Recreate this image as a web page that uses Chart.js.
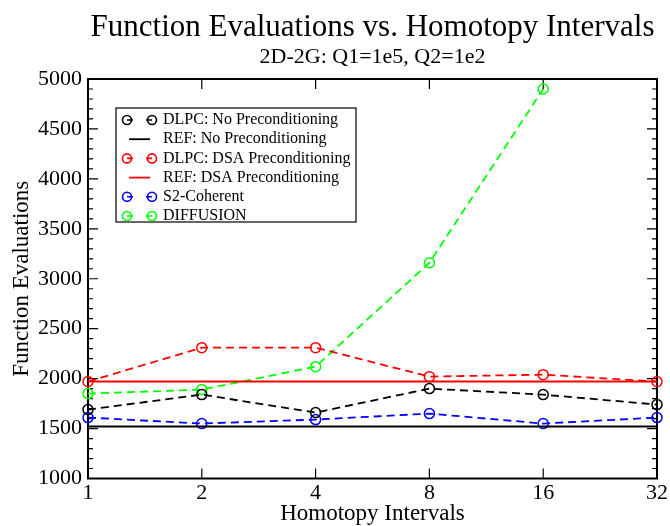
<!DOCTYPE html>
<html>
<head>
<meta charset="utf-8">
<script src="https://cdn.jsdelivr.net/npm/chart.js@4"></script>
<style>
html, body { margin: 0; padding: 0; background: #fff; }
</style>
</head>
<body>
<canvas id="chart" width="670" height="526"></canvas>
<script>
// data
const intervals = ['1', '2', '4', '8', '16', '32'];
const dlpcNoPrec = [1690, 1840, 1660, 1900, 1840, 1740];
const refNoPrec = [1520, 1520, 1520, 1520, 1520, 1520];
const dlpcDsa = [1970, 2310, 2310, 2020, 2040, 1970];
const refDsa = [1970, 1970, 1970, 1970, 1970, 1970];
const s2Coherent = [1610, 1550, 1590, 1650, 1550, 1610];
const diffusion = [1850, 1890, 2120, 3160, 4900, null];
const yMin = 1000, yMax = 5000;

const serif = 'Liberation Serif';

function dashed(label, data, color) {
    return {
        label: label,
        data: data,
        borderColor: color,
        borderWidth: 1.8,
        borderDash: [8, 5],
        pointStyle: 'circle',
        pointRadius: 5,
        pointBorderWidth: 1.5,
        pointBorderColor: color,
        pointBackgroundColor: 'rgba(0,0,0,0)',
        tension: 0,
        clip: false,
        spanGaps: false
    };
}

function solid(label, data, color) {
    return {
        label: label,
        data: data,
        borderColor: color,
        borderWidth: 2,
        pointRadius: 0,
        tension: 0,
        clip: false
    };
}

// box frame with inward ticks, like the original plot
const frameTicks = {
    id: 'frameTicks',
    beforeDatasetsDraw(chart) {
        const {ctx, chartArea: a, scales: {x, y}} = chart;
        ctx.save();
        ctx.strokeStyle = '#000';
        ctx.lineWidth = 1.2;
        ctx.beginPath();
        for (let v = yMin; v <= yMax; v += 100) {
            const py = y.getPixelForValue(v);
            const len = v % 500 === 0 ? 10 : 5;
            ctx.moveTo(a.left, py); ctx.lineTo(a.left + len, py);
            ctx.moveTo(a.right, py); ctx.lineTo(a.right - len, py);
        }
        intervals.forEach((_, i) => {
            const px = x.getPixelForValue(i);
            ctx.moveTo(px, a.bottom); ctx.lineTo(px, a.bottom - 10);
            ctx.moveTo(px, a.top); ctx.lineTo(px, a.top + 10);
        });
        ctx.stroke();
        ctx.lineWidth = 2;
        ctx.strokeRect(a.left, a.top, a.right - a.left, a.bottom - a.top);
        ctx.restore();
    }
};

// xmgrace style legend box
const boxLegend = {
    id: 'boxLegend',
    afterDraw(chart) {
        const ctx = chart.ctx;
        const bx = 116, by = 108, bw = 240, bh = 114;
        const rowY = 120, rowH = 19.2;
        ctx.save();
        ctx.fillStyle = '#fff';
        ctx.fillRect(bx, by, bw, bh);
        ctx.strokeStyle = '#000';
        ctx.lineWidth = 1.2;
        ctx.strokeRect(bx, by, bw, bh);
        chart.data.datasets.forEach((ds, i) => {
            const cy = rowY + i * rowH;
            ctx.strokeStyle = ds.borderColor;
            if (ds.pointRadius > 0) {
                ctx.lineWidth = 1.6;
                ctx.setLineDash([6, 13]);
                ctx.beginPath();
                ctx.moveTo(127, cy); ctx.lineTo(152, cy);
                ctx.stroke();
                ctx.setLineDash([]);
                [127, 152].forEach(cx => {
                    ctx.beginPath();
                    ctx.arc(cx, cy, 4.5, 0, Math.PI * 2);
                    ctx.stroke();
                });
            } else {
                ctx.lineWidth = 1.8;
                ctx.beginPath();
                ctx.moveTo(129, cy); ctx.lineTo(150, cy);
                ctx.stroke();
            }
            ctx.fillStyle = '#000';
            ctx.font = '16px "' + serif + '"';
            ctx.textBaseline = 'middle';
            ctx.textAlign = 'left';
            ctx.fillText(ds.label, 163, cy);
        });
        ctx.restore();
    }
};

const ctx = document.getElementById('chart').getContext('2d');
const chart = new Chart(ctx, {
    type: 'line',
    data: {
        labels: intervals,
        datasets: [
            dashed('DLPC: No Preconditioning', dlpcNoPrec, '#000000'),
            solid('REF: No Preconditioning', refNoPrec, '#000000'),
            dashed('DLPC: DSA Preconditioning', dlpcDsa, '#ff0000'),
            solid('REF: DSA Preconditioning', refDsa, '#ff0000'),
            dashed('S2-Coherent', s2Coherent, '#0000ff'),
            dashed('DIFFUSION', diffusion, '#00ff00')
        ]
    },
    options: {
        responsive: false,
        animation: false,
        layout: { padding: { left: 0, right: 12, top: 0, bottom: 0 } },
        plugins: {
            legend: { display: false },
            tooltip: { enabled: false },
            title: {
                display: true,
                fullSize: false,
                text: 'Function Evaluations vs. Homotopy Intervals',
                color: '#000',
                font: { family: serif, size: 31, weight: 'normal', lineHeight: 1.1 },
                padding: { top: 11, bottom: 0 }
            },
            subtitle: {
                display: true,
                fullSize: false,
                text: '2D-2G: Q1=1e5, Q2=1e2',
                color: '#000',
                font: { family: serif, size: 22, weight: 'normal', lineHeight: 1.1 },
                padding: { top: 0, bottom: 9.7 }
            }
        },
        scales: {
            x: {
                type: 'category',
                offset: false,
                grid: { display: false, drawTicks: false },
                border: { display: false },
                ticks: { color: '#000', padding: 2, font: { family: serif, size: 22 }, maxRotation: 0 },
                title: {
                    display: true,
                    text: 'Homotopy Intervals',
                    color: '#000',
                    font: { family: serif, size: 23, lineHeight: 1.0 },
                    padding: { top: 0, bottom: 0.5 }
                },
                afterFit(scale) { scale.height = 47.5; }
            },
            y: {
                min: yMin,
                max: yMax,
                grid: { display: false, drawTicks: false },
                border: { display: false },
                ticks: {
                    stepSize: 500,
                    color: '#000',
                    padding: 6,
                    font: { family: serif, size: 22 },
                    callback: value => String(value)
                },
                title: {
                    display: true,
                    text: 'Function Evaluations',
                    color: '#000',
                    font: { family: serif, size: 23, lineHeight: 1.2 },
                    padding: { top: 8, bottom: 0 }
                },
                afterFit(scale) { scale.width = 88; }
            }
        }
    },
    plugins: [frameTicks, boxLegend]
});
</script>
</body>
</html>
